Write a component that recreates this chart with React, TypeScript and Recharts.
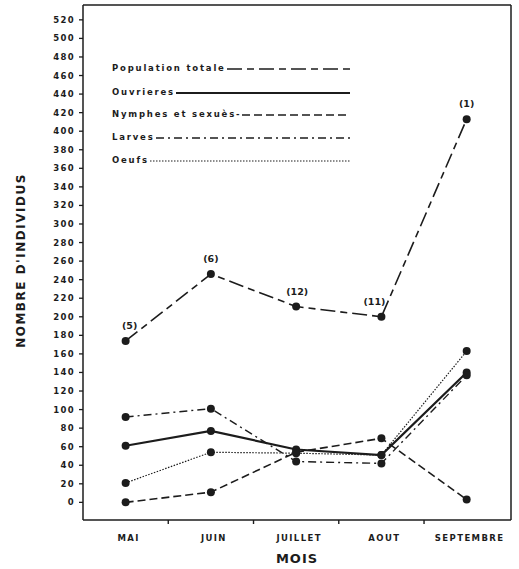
import { LineChart, Line, XAxis, YAxis, ReferenceLine, LabelList } from 'recharts';

const months = ['MAI', 'JUIN', 'JUILLET', 'AOUT', 'SEPTEMBRE'];
const monthTicks = [0, 0.5, 1, 1.5, 2, 2.5, 3, 3.5, 4];
const yTicks = [0, 20, 40, 60, 80, 100, 120, 140, 160, 180, 200, 220, 240, 260, 280, 300, 320, 340, 360, 380, 400, 420, 440, 460, 480, 500, 520];

const populationTotale = [174, 246, 211, 200, 413];
const sampleCounts = ['(5)', '(6)', '(12)', '(11)', '(1)'];
const ouvrieres = [61, 77, 57, 51, 140];
const nymphes = [0, 11, 54, 69, 3];
const larves = [92, 101, 44, 42, 137];
const oeufs = [21, 54, 53, 51, 163];

const data = months.map((m, i) => ({
    x: i,
    month: m,
    population: populationTotale[i],
    count: sampleCounts[i],
    ouvrieres: ouvrieres[i],
    nymphes: nymphes[i],
    larves: larves[i],
    oeufs: oeufs[i],
}));

const font = '"DejaVu Sans", sans-serif';
const ink = '#1c1c1c';

const series = [
    { key: 'population', name: 'Population totale', dash: '15 5 7 5', width: 1.6 },
    { key: 'ouvrieres', name: 'Ouvrieres', dash: undefined, width: 2.2 },
    { key: 'nymphes', name: 'Nymphes et sexuès-', dash: '8 4', width: 1.6 },
    { key: 'larves', name: 'Larves', dash: '8 4 2 4', width: 1.4 },
    { key: 'oeufs', name: 'Oeufs', dash: '1.5 1.5', width: 1.2 },
];

const legendTops = [68, 92, 114, 137, 160];
// the (11) label sits a bit left of its point in the original
const countShift = [4, 0, 1, -7, 0];

function MonthTick(props: any) {
    const { x, y, payload } = props;
    const v = payload.value;
    if (!Number.isInteger(v)) {
        return <line x1={x} y1={y} x2={x} y2={y + 4} stroke={ink} strokeWidth={1.4} />;
    }
    return (
        <text x={x + 3} y={y + 21} textAnchor="middle" fontFamily={font} fontWeight="bold" fontSize={8.5} letterSpacing={1.4} fill={ink}>
            {months[v]}
        </text>
    );
}

function CountLabel(props: any) {
    const { x, y, value, index } = props;
    return (
        <text x={x + countShift[index]} y={y - 12} textAnchor="middle" fontFamily={font} fontWeight="bold" fontSize={9.5} fill={ink}>
            {value}
        </text>
    );
}

function Legend() {
    return (
        <>
            {series.map((s, i) => (
                <div key={s.key} style={{ position: 'absolute', left: 112, top: legendTops[i] - 7, width: 238, height: 14, display: 'flex', alignItems: 'center' }}>
                    <span style={{ fontFamily: font, fontWeight: 'bold', fontSize: 8.5, letterSpacing: 1.8, color: ink, whiteSpace: 'nowrap' }}>{s.name}</span>
                    <svg style={{ flex: 1, height: 14 }}>
                        <line x1={1} y1={8} x2="100%" y2={8} stroke={ink} strokeWidth={s.width} strokeDasharray={s.dash} />
                    </svg>
                </div>
            ))}
        </>
    );
}

export default function App() {
    return (
        <div style={{ position: 'absolute', left: 0, top: 0, width: 519, height: 569, background: '#fff' }}>
            <LineChart width={519} height={569} data={data} margin={{ top: 5, right: 8, bottom: 0, left: 0 }}>
                <XAxis
                    dataKey="x"
                    type="number"
                    domain={[-0.5, 4.52]}
                    ticks={monthTicks}
                    interval={0}
                    height={49}
                    tickLine={false}
                    tickSize={0}
                    tickMargin={0}
                    tick={<MonthTick />}
                    axisLine={{ stroke: ink, strokeWidth: 1.5 }}
                    label={{ value: 'MOIS', position: 'insideBottom', offset: 6, fontFamily: font, fontWeight: 'bold', fontSize: 13, letterSpacing: 1, fill: ink }}
                />
                <YAxis
                    type="number"
                    domain={[-19, 536]}
                    ticks={yTicks}
                    interval={0}
                    width={83}
                    allowDataOverflow
                    tickSize={4}
                    tickMargin={4}
                    tickLine={{ stroke: ink, strokeWidth: 1.3 }}
                    axisLine={{ stroke: ink, strokeWidth: 1.5 }}
                    tick={{ fontFamily: font, fontWeight: 'bold', fontSize: 8.5, letterSpacing: 1.3, fill: ink }}
                    label={{ value: "NOMBRE D'INDIVIDUS", angle: -90, position: 'insideLeft', offset: 21, dy: -2, fontFamily: font, fontWeight: 'bold', fontSize: 12, letterSpacing: 1.5, fill: ink, style: { textAnchor: 'middle' } }}
                />
                <ReferenceLine y={536} stroke={ink} strokeWidth={1.5} />
                <ReferenceLine x={4.52} stroke={ink} strokeWidth={1.5} />
                {series.map((s) => (
                    <Line
                        key={s.key}
                        dataKey={s.key}
                        type="linear"
                        stroke={ink}
                        strokeWidth={s.width}
                        strokeDasharray={s.dash}
                        dot={{ r: 4, fill: ink, stroke: ink, strokeWidth: 0, strokeDasharray: '' }}
                        isAnimationActive={false}
                    >
                        {s.key === 'population' && <LabelList dataKey="count" content={<CountLabel />} />}
                    </Line>
                ))}
            </LineChart>
            <Legend />
        </div>
    );
}
